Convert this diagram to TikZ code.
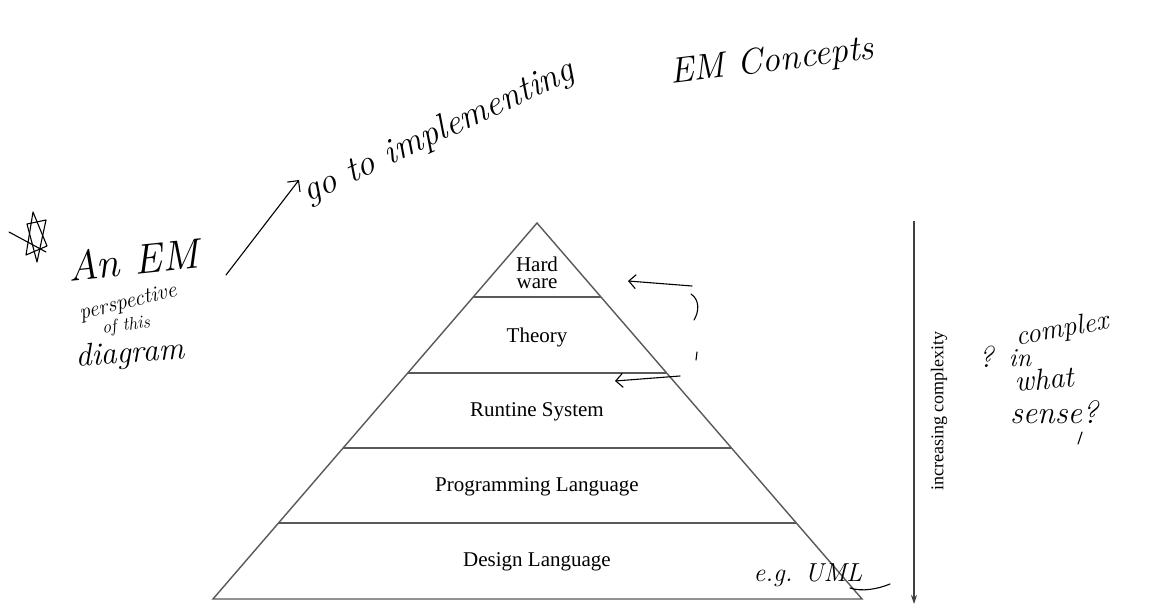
\documentclass[tikz,border=0pt]{standalone}
\usepackage{fontspec}
\newfontfamily\printfont{Liberation Serif}
\usetikzlibrary{arrows.meta}
\begin{document}
\begin{tikzpicture}[x=1pt,y=-1pt,
  layer/.style={draw=none,font=\printfont\fontsize{21}{20}\selectfont,align=center,inner sep=0pt},
  frame/.style={draw=black!65,line width=1.4pt},
  hand/.style={font=\itshape\fontsize{#1}{#1}\selectfont,inner sep=0pt,text=black},
  hand/.default=28,
  pen/.style={draw=black,line width=1.1pt,line cap=round,line join=round}]
\useasboundingbox[fill=white] (0,0) rectangle (1161,609);
% pyramid corners
\coordinate (apex) at (537,223);
\coordinate (bl) at (213,599);
\coordinate (br) at (862,599);
\draw[frame] (bl) -- (apex) -- (br) -- cycle;
% layer separators
\foreach \n/\yy in {hw/297,th/373,rt/448,pl/523}{
  \coordinate (\n L) at ({537-0.863*(\yy-223)},\yy);
  \coordinate (\n R) at ({537+0.863*(\yy-223)},\yy);
  \draw[frame] (\n L) -- (\n R);
}
% layer labels
\node[layer] (hard) at (537,273) {Hard\\[-3pt]ware};
\node[layer] (theory) at (537,337) {Theory};
\node[layer] (runtime) at (537,412) {Runtine System};
\node[layer] (prog) at (537,487) {Programming Language};
\node[layer] (design) at (537,562) {Design Language};
% complexity arrow
\coordinate (axtop) at (914,221);
\coordinate (axbot) at (914,604);
\draw[draw=black!75,line width=1.2pt,-{Stealth[length=9pt,width=6pt]}] (axtop) -- (axbot);
\node[font=\printfont\fontsize{18}{18}\selectfont,rotate=90,inner sep=0pt] (cx) at (939,411) {increasing complexity};
% handwritten star doodle
\draw[pen] (33,212) -- (26,255) -- (47,246) -- cycle;
\draw[pen] (27,224) -- (46,220) -- (37,262) -- cycle;
\draw[pen] (9,232) -- (46,252);
% handwritten notes
\node[hand=42,rotate=6] (anem) at (133,260) {An EM};
\node[hand=22,rotate=14] (persp) at (128,303) {perspective};
\node[hand=18,rotate=8] (ofthis) at (126,326) {of this};
\node[hand=32,rotate=4] (diag) at (130,355) {diagram};
\coordinate (s1) at (226,275);
\coordinate (s2) at (299,180);
\draw[pen,-{Straight Barb[length=8pt]}] (s1) -- (s2);
\node[hand=36,rotate=25,anchor=west] (goto) at (305,195) {go to implementing};
\node[hand=36,rotate=7] (emc) at (772,62) {EM Concepts};
% arrows to layer lines
\coordinate (a1s) at (692,286);
\coordinate (a1e) at (628,281);
\coordinate (a2s) at (680,376);
\coordinate (a2e) at (615,381);
\draw[pen,-{Straight Barb[length=7pt]}] (a1s) -- (a1e);
\draw[pen,-{Straight Barb[length=7pt]}] (a2s) -- (a2e);
\draw[pen] (691,294) .. controls (700,300) and (699,312) .. (694,320);
\draw[pen] (697,352) -- (696,360);
% complex in what sense
\node[hand=30] (q) at (986,357) {?};
\node[hand=28,rotate=10] (cplx) at (1062,330) {complex};
\node[hand=26] (in) at (1020,358) {in};
\node[hand=30,rotate=5] (what) at (1044,379) {what};
\node[hand=32] (sense) at (1054,412) {sense?};
\draw[pen] (1082,432) -- (1078,444);
% e.g. UML
\node[hand=26] (eg) at (808,575) {e.g. UML};
\coordinate (u1) at (850,588);
\coordinate (u2) at (890,584);
\draw[pen] (u1) .. controls (862,592) and (878,589) .. (u2);
\end{tikzpicture}
\end{document}
